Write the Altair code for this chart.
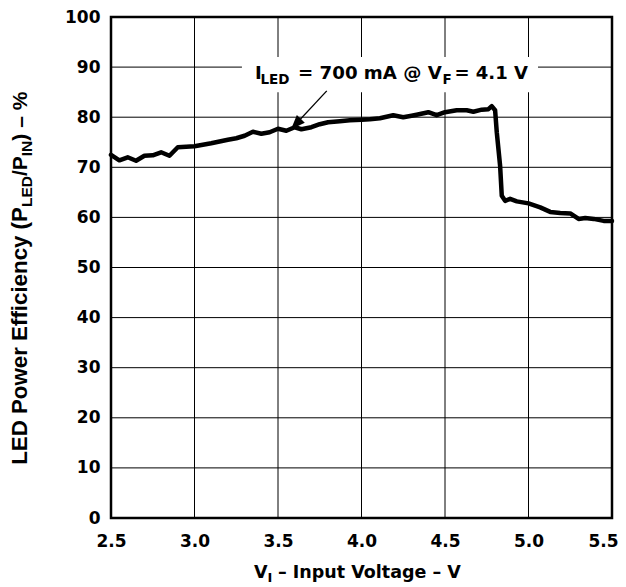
import altair as alt
import pandas as pd

# ---- data ----
volts = [2.50, 2.55, 2.60, 2.65, 2.70, 2.75, 2.80, 2.85, 2.90, 2.95, 3.00, 3.10,
         3.20, 3.25, 3.30, 3.35, 3.40, 3.45, 3.50, 3.55, 3.60, 3.64, 3.70, 3.75,
         3.80, 3.87, 3.93, 4.00, 4.05, 4.11, 4.19, 4.25, 4.30, 4.33, 4.40, 4.45,
         4.50, 4.57, 4.63, 4.67, 4.72, 4.76, 4.78, 4.80, 4.81, 4.83, 4.84, 4.86,
         4.89, 4.93, 5.00, 5.07, 5.13, 5.19, 5.25, 5.30, 5.34, 5.39, 5.45, 5.50]
efficiency = [72.5, 71.4, 72.0, 71.3, 72.3, 72.4, 73.0, 72.3, 74.0, 74.1, 74.2, 74.8,
              75.5, 75.8, 76.3, 77.1, 76.7, 77.0, 77.7, 77.3, 78.0, 77.6, 78.0, 78.6,
              79.0, 79.2, 79.4, 79.5, 79.6, 79.8, 80.4, 80.0, 80.3, 80.5, 81.0, 80.4,
              81.0, 81.4, 81.4, 81.1, 81.5, 81.6, 82.2, 81.4, 77.0, 70.3, 64.3, 63.3,
              63.7, 63.2, 62.8, 62.0, 61.1, 60.9, 60.8, 59.7, 59.9, 59.7, 59.3, 59.3]

x_ticks = [2.5, 3.0, 3.5, 4.0, 4.5, 5.0, 5.5]
y_ticks = [0, 10, 20, 30, 40, 50, 60, 70, 80, 90, 100]

# annotation box (data coords) and arrow (tail -> tip)
box_x = [3.284, 5.057]
box_y = [85.0, 92.0]
arrow_x = [3.792, 3.578]
arrow_y = [85.25, 77.6]

annot_text = ["I", "LED", "= 700 mA @ V", "F", "= 4.1 V"]
xtitle_text = ["V", "I", "\u2013 Input Voltage \u2013 V"]
ytitle_text = ["LED Power Efficiency (P", "LED", "/P", "IN", ") \u2013 %"]

HF = "DejaVu Sans"
VF = "Liberation Sans"

df = pd.DataFrame({"v": volts, "eff": efficiency})
dummy = pd.DataFrame({"a": [0]})

xscale = alt.Scale(domain=[2.5, 5.5], nice=False, zero=False)
yscale = alt.Scale(domain=[0, 100], nice=False, zero=False)

last_x = "datum.value >= 5.49"
x_axis = alt.Axis(values=x_ticks, format=".1f", title=None, ticks=False,
                  labelPadding=15, labelFlush=False, labelOverlap=False,
                  labelAlign={"condition": {"test": last_x, "value": "right"}, "value": "center"},
                  labelOffset={"condition": {"test": last_x, "value": 6}, "value": 0},
                  grid=False, domain=False, labelFont=HF, labelFontSize=17,
                  labelFontWeight="bold", labelColor="black")
y_axis = alt.Axis(values=y_ticks, format="d", title=None, ticks=False,
                  labelPadding=11, labelFlush=False, labelOverlap=False,
                  grid=False, domain=False, labelFont=HF, labelFontSize=17,
                  labelFontWeight="bold", labelColor="black")

# grid lines drawn as rules through the shared scales
vgrid = alt.Chart(pd.DataFrame({"gx": x_ticks})).mark_rule(
    color="black", strokeWidth=1).encode(
    x=alt.X("gx:Q", scale=xscale, axis=x_axis))
hgrid = alt.Chart(pd.DataFrame({"gy": y_ticks})).mark_rule(
    color="black", strokeWidth=1).encode(
    y=alt.Y("gy:Q", scale=yscale, axis=y_axis))

line = alt.Chart(df).mark_line(color="black", strokeWidth=4.5,
                               strokeJoin="round", strokeCap="round").encode(
    x=alt.X("v:Q", scale=xscale, axis=x_axis),
    y=alt.Y("eff:Q", scale=yscale, axis=y_axis),
)

box = alt.Chart(pd.DataFrame({"x0": [box_x[0]], "x1": [box_x[1]],
                              "y0": [box_y[0]], "y1": [box_y[1]]})).mark_rect(
    color="white").encode(
    x=alt.X("x0:Q", scale=xscale, axis=x_axis), x2="x1:Q",
    y=alt.Y("y0:Q", scale=yscale, axis=y_axis), y2="y1:Q")

arrow_line = alt.Chart(pd.DataFrame({"x0": [arrow_x[0]], "x1": [arrow_x[1]],
                                     "y0": [arrow_y[0]], "y1": [arrow_y[1]]})).mark_rule(
    color="black", strokeWidth=1.3).encode(
    x=alt.X("x0:Q", scale=xscale, axis=x_axis), x2="x1:Q",
    y=alt.Y("y0:Q", scale=yscale, axis=y_axis), y2="y1:Q")

arrow_head = alt.Chart(pd.DataFrame({"x": [arrow_x[1]], "y": [arrow_y[1]]})).mark_point(
    shape="M0,0 L0.5,1.3 L-0.5,1.3 Z", filled=True, color="black", opacity=1,
    size=480, angle=223.5, strokeWidth=0).encode(
    x=alt.X("x:Q", scale=xscale, axis=x_axis),
    y=alt.Y("y:Q", scale=yscale, axis=y_axis))


def txt(s, x, y, size, font, angle=0):
    return alt.Chart(dummy).mark_text(
        text=s, font=font, fontSize=size, fontWeight="bold", align="left",
        baseline="alphabetic", angle=angle, color="black").encode(
        x=alt.value(x), y=alt.value(y))


texts = [
    # annotation
    txt(annot_text[0], 144, 62.3, 18.2, HF),
    txt(annot_text[1], 149.5, 66.5, 13.5, HF),
    txt(annot_text[2], 187, 62.3, 18.2, HF),
    txt(annot_text[3], 331.5, 66.5, 13.5, HF),
    txt(annot_text[4], 343.5, 62.3, 18.0, HF),
    # x title
    txt(xtitle_text[0], 143, 560.5, 17.5, HF),
    txt(xtitle_text[1], 156.5, 565, 13, HF),
    txt(xtitle_text[2], 167, 560.5, 17.5, HF),
    # y title (rotated)
    txt(ytitle_text[0], -84, 447.8, 22.3, VF, 270),
    txt(ytitle_text[1], -79, 190, 15.5, VF, 270),
    txt(ytitle_text[2], -84, 159, 21, VF, 270),
    txt(ytitle_text[3], -79, 139.2, 15.5, VF, 270),
    txt(ytitle_text[4], -84, 123.7, 21, VF, 270),
]

chart = alt.layer(vgrid, hgrid, line, box, arrow_line, arrow_head, *texts).properties(
    width=501, height=501, autosize="none",
    padding={"left": 103, "top": 9, "right": 6, "bottom": 69},
    background="white",
).configure_view(stroke="black", strokeWidth=2.5)

chart.save("out.html", embed_options={"renderer": "svg", "actions": False})
